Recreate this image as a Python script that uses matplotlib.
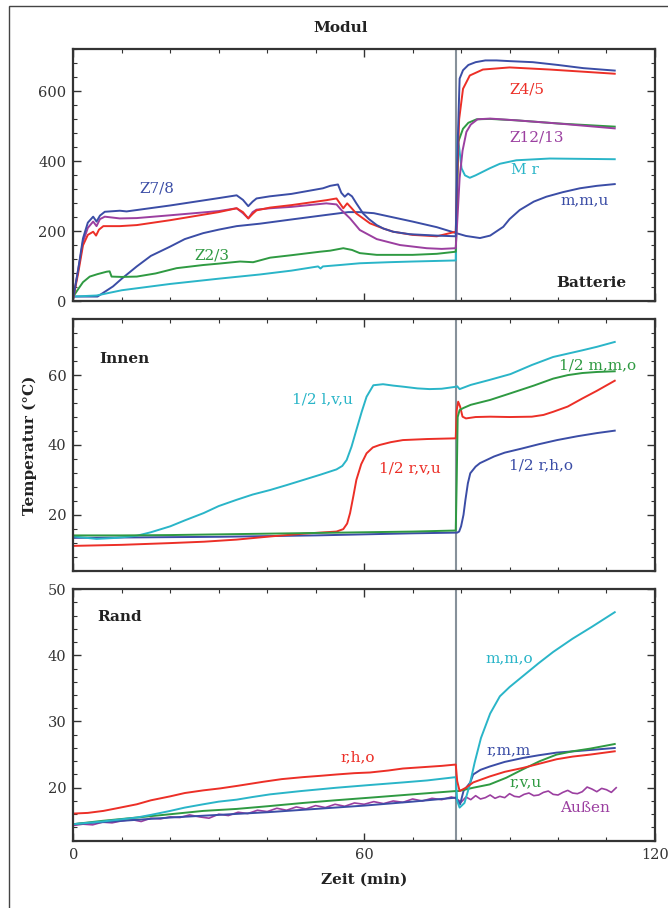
import numpy as np
import matplotlib.pyplot as plt
from matplotlib.ticker import MultipleLocator
from matplotlib.patches import Rectangle

plt.rcParams['font.family'] = ['DejaVu Serif']

# colours
BLUE = '#3b4da6'
RED = '#ec2f27'
GREEN = '#2f9a42'
CYAN = '#2ab5c8'
PURPLE = '#9b3fa0'
T_SWITCH = 79

# ---- Modul (Batterie) ----
z78_t = [0, 1, 2, 3, 4.1, 4.8, 5.5, 6.5, 9.6, 11, 20, 30, 33.7, 35, 36.1, 37, 37.8, 40.5, 45, 51.5, 53, 54.6,
         55.3, 56, 56.7, 57.5, 58.4, 59.8, 61, 62.6, 64, 66, 69.4, 74.9, 78.9, 79.3, 79.7, 80.4, 81.5, 83, 85,
         87.3, 90, 94.8, 100, 105.2, 111.7]
z78_v = [10, 90, 180, 225, 242, 228, 245, 256, 259, 257, 274, 295, 303, 290, 272, 285, 294, 300, 307, 323, 330, 334,
         310, 299, 308, 300, 280, 251, 235, 218, 208, 199, 192, 188, 186, 450, 636, 660, 675, 683, 688,
         688, 686, 683, 675, 666, 659]
z45_t = [0, 1, 2, 3, 4.1, 4.7, 5.3, 6.2, 9.6, 13.1, 20, 30, 33.7, 35, 36.1, 37, 37.8, 40.6, 45, 52.2, 54.3, 55.7,
         56.5, 57.3, 58.4, 61.2, 64, 66, 70, 75, 78.9, 79.2, 79.6, 80.4, 81.8, 84.5, 90, 98.3, 105, 111.7]
z45_v = [10, 80, 160, 190, 199, 188, 205, 215, 215, 218, 232, 255, 266, 255, 237, 250, 260, 268, 275, 289, 294, 266,
         280, 268, 251, 223, 208, 199, 190, 186, 199, 350, 520, 607, 645, 662, 668, 662, 656, 650]
z1213_t = [0, 1, 2, 3, 4.1, 4.8, 5.5, 6.5, 9.6, 13.1, 20, 30, 33.7, 35, 36.1, 37, 37.8, 40.6, 45, 52.2, 54.3, 55.3,
           57.1, 59.1, 62.6, 67.4, 72.9, 76, 78.9, 79.3, 79.7, 80.3, 81.1, 82, 83.4, 86, 91.4, 100, 105, 111.7]
z1213_v = [10, 90, 170, 210, 228, 215, 235, 242, 237, 238, 246, 258, 266, 252, 237, 255, 262, 266, 270, 280, 277, 261,
           237, 204, 178, 161, 152, 150, 152, 250, 352, 430, 484, 505, 520, 522, 517, 508, 502, 494]
z23_t = [0, 1, 2, 3.4, 5, 6.9, 7.5, 7.9, 10, 13.1, 17, 21.3, 26.8, 30, 34.4, 37.1, 40.6, 45, 50.9, 53, 55.7, 57.5,
         59.1, 62.6, 70, 75, 78.9, 79.2, 79.4, 80.4, 81.5, 83.2, 86, 91.4, 100, 111.7]
z23_v = [14, 35, 55, 71, 78, 85, 86, 71, 70, 71, 80, 95, 104, 108, 114, 112, 125, 132, 142, 145, 152, 147,
         138, 133, 133, 136, 142, 300, 455, 493, 510, 520, 521, 517, 508, 499]
mr_t = [0, 4.8, 10, 20, 30, 38.5, 45, 50.5, 51, 51.5, 55, 59.1, 65, 70, 78.9, 79.1, 79.3, 79.6, 80.1, 80.8, 81.8,
        83, 85.9, 88, 91.4, 98.3, 105, 111.7]
mr_v = [14, 17, 32, 50, 65, 77, 88, 100, 94, 100, 104, 109, 112, 114, 117, 300, 474, 440, 380, 360, 353,
        360, 380, 393, 403, 408, 407, 406]
mmu_t = [0, 5, 8.2, 10, 13.1, 16, 19.9, 23, 26.8, 30, 33.7, 38.5, 45, 52.2, 56.7, 59, 62, 66, 70, 75, 79, 81,
         83.9, 86, 88.7, 90, 92.1, 95, 97.6, 101, 104.5, 108, 111.7]
mmu_v = [14, 14, 43, 65, 100, 130, 156, 178, 195, 205, 215, 222, 234, 247, 255, 255, 252, 240, 228, 212, 195, 187,
         181, 188, 213, 235, 261, 285, 299, 312, 323, 330, 335]

# ---- Innen ----
lvu_t = [0, 4.8, 9, 13.1, 16, 20, 23, 26.9, 30, 33.7, 37, 40.6, 44, 47.5, 51, 54.3, 55.5, 56.4, 57.4, 58.4, 59.5,
         60.5, 61.9, 63.9, 66, 68, 71, 73.5, 76, 78.6, 79.2, 79.7, 82, 85.8, 90.2, 94.6, 99, 105, 108, 111.7]
lvu_v = [13.8, 13.1, 13.4, 14, 15, 16.7, 18.4, 20.5, 22.5, 24.3, 25.8, 27.1, 28.5, 30, 31.5, 33, 34, 35.7, 39.5,
         44.3, 49.5, 53.8, 57.1, 57.4, 57, 56.7, 56.2, 56, 56.1, 56.6, 56.8, 56, 57.2, 58.6, 60.3, 62.9, 65.2,
         67.1, 68.1, 69.5]
rvu_t = [0, 10, 20, 27, 33.7, 40.6, 47.5, 54.3, 55.7, 56.5, 57.1, 57.8, 58.4, 59.4, 60.5, 61.8, 63.2, 65.5, 68, 73,
         78.9, 79.1, 79.4, 79.8, 80.3, 81, 83, 86, 90, 94.6, 97, 99, 102, 105, 108, 111.7]
rvu_v = [11.1, 11.4, 11.9, 12.3, 12.9, 13.8, 14.6, 15.2, 15.9, 17.5, 20.5, 25.5, 30, 34.5, 37.6, 39.3, 40, 40.8,
         41.4, 41.7, 41.9, 50, 52.4, 51, 48.1, 47.6, 48, 48.1, 48, 48.1, 48.6, 49.5, 51, 53.3, 55.5, 58.4]
mmo_t = [0, 10, 20, 30, 40, 50, 60, 70, 78.9, 79.1, 79.3, 79.7, 80.5, 82, 86, 90.2, 95, 99, 102, 105, 108, 111.7]
mmo_v = [14.1, 14.1, 14.2, 14.4, 14.6, 14.8, 15.0, 15.2, 15.5, 30, 48, 50, 50.6, 51.5, 52.9, 54.8, 57, 59, 60,
         60.6, 60.9, 61.1]
rho_t = [0, 10, 20, 30, 40, 50, 60, 70, 79.2, 79.6, 80, 80.5, 80.9, 81.4, 81.9, 83, 83.9, 86.8, 89, 92.6, 96,
         99.8, 104, 108, 111.7]
rho_v = [13.4, 13.5, 13.6, 13.7, 13.9, 14.1, 14.4, 14.7, 14.9, 15.2, 16.7, 20, 24.3, 29, 31.9, 33.8, 34.8, 36.7,
         37.8, 39, 40.2, 41.4, 42.5, 43.4, 44.1]

# ---- Rand ----
rand_rho_t = [0, 3, 6.2, 9, 13.1, 16, 20, 23, 26.8, 30.3, 34, 39.2, 43, 47.4, 51, 54.3, 58, 61.2, 65, 68, 72, 76,
              78.9, 79.2, 79.7, 81, 82.5, 85.9, 89, 92.8, 96, 99.7, 103, 106.6, 111.7]
rand_rho_v = [16.1, 16.2, 16.5, 16.9, 17.5, 18.1, 18.7, 19.2, 19.6, 19.9, 20.3, 20.9, 21.3, 21.6, 21.8, 22, 22.2,
              22.3, 22.6, 22.9, 23.1, 23.3, 23.5, 21, 19.5, 20, 20.8, 21.7, 22.4, 23, 23.6, 24.3, 24.7, 25, 25.5]
rand_mmo_t = [0, 6, 13.1, 16, 20, 23, 26.8, 30, 33.7, 37, 40.6, 47, 54.3, 61, 68, 73, 78.9, 79.2, 79.7, 80.7, 81.7,
              82.8, 84.1, 86, 88, 90, 93, 96, 99, 103, 107, 111.7]
rand_mmo_v = [14.5, 14.9, 15.5, 15.9, 16.5, 17, 17.5, 17.9, 18.2, 18.6, 19, 19.5, 20, 20.4, 20.8, 21.1, 21.6, 18,
              17, 17.7, 20.2, 23.8, 27.5, 31.2, 33.8, 35.2, 37, 38.8, 40.5, 42.5, 44.3, 46.5]
rand_rvu_t = [0, 6, 13.1, 20, 26.8, 33.7, 40, 47.4, 54, 61.2, 70, 78.9, 79.5, 82.5, 85.9, 89.3, 92.8, 96.2, 99.7,
              103, 106.6, 111.7]
rand_rvu_v = [14.5, 15, 15.5, 16, 16.5, 16.8, 17.2, 17.7, 18.1, 18.5, 19, 19.5, 19.5, 20, 20.5, 21.5, 22.8, 24, 25,
              25.5, 25.9, 26.6]
rand_rmm_t = [0, 10, 20, 30, 40, 50, 60, 70, 78.9, 79.3, 79.8, 80.5, 81.9, 82.5, 84, 85.9, 89, 92.8, 96, 99.7, 105,
              111.7]
rand_rmm_v = [14.5, 15, 15.5, 15.9, 16.3, 16.8, 17.3, 17.9, 18.5, 18, 17.5, 19.5, 20.8, 22, 22.7, 23.2, 23.9, 24.5,
              24.9, 25.3, 25.6, 26]
aussen_t = [0, 2, 4, 6, 8, 10, 12, 14, 16, 18, 20, 22, 24, 26, 28, 30, 32, 34, 36, 38, 40, 42, 44, 46, 48, 50, 52,
            54, 56, 58, 60, 62, 64, 66, 68, 70, 72, 74, 76, 78, 79, 80, 81, 82, 83, 84, 85, 86, 87, 88, 89, 90,
            91, 92, 93, 94, 95, 96, 97, 98, 99, 100, 101, 102, 103, 104, 105, 106, 107, 108, 109, 110, 111, 112]
aussen_v = [14.3, 14.5, 14.4, 14.8, 14.7, 15.0, 15.2, 14.9, 15.4, 15.3, 15.6, 15.5, 15.9, 15.6, 15.4, 16.0, 15.8,
            16.3, 16.1, 16.6, 16.4, 16.9, 16.6, 17.1, 16.8, 17.3, 17.0, 17.5, 17.2, 17.7, 17.5, 17.9, 17.6, 18.0,
            17.8, 18.3, 18.0, 18.4, 18.2, 18.6, 18.4, 17.8, 18.6, 18.2, 18.8, 18.3, 18.5, 18.9, 18.4, 18.7, 18.5,
            19.1, 18.7, 18.6, 19.0, 19.2, 18.8, 18.9, 19.3, 19.5, 19.0, 18.9, 19.3, 19.6, 19.2, 19.1, 19.4, 20.1,
            19.8, 19.4, 19.9, 19.7, 19.3, 20.0]

fig = plt.figure(figsize=(6.68, 9.08), dpi=100)
L, W = 0.1097, 0.8708
ax1 = fig.add_axes([L, 0.6680, W, 0.2778])
ax2 = fig.add_axes([L, 0.3715, W, 0.2769])
ax3 = fig.add_axes([L, 0.0741, W, 0.2772])

lw = 1.4
ax1.plot(mmu_t, mmu_v, color=BLUE, lw=lw)
ax1.plot(mr_t, mr_v, color=CYAN, lw=lw)
ax1.plot(z23_t, z23_v, color=GREEN, lw=lw)
ax1.plot(z1213_t, z1213_v, color=PURPLE, lw=lw)
ax1.plot(z45_t, z45_v, color=RED, lw=lw)
ax1.plot(z78_t, z78_v, color=BLUE, lw=lw)

ax2.plot(rho_t, rho_v, color=BLUE, lw=lw)
ax2.plot(lvu_t, lvu_v, color=CYAN, lw=lw)
ax2.plot(rvu_t, rvu_v, color=RED, lw=lw)
ax2.plot(mmo_t, mmo_v, color=GREEN, lw=lw)

ax3.plot(aussen_t, aussen_v, color=PURPLE, lw=1.2)
ax3.plot(rand_rmm_t, rand_rmm_v, color=BLUE, lw=lw)
ax3.plot(rand_rvu_t, rand_rvu_v, color=GREEN, lw=lw)
ax3.plot(rand_mmo_t, rand_mmo_v, color=CYAN, lw=lw)
ax3.plot(rand_rho_t, rand_rho_v, color=RED, lw=lw)

limits = [(0, 720, 200, 40), (4, 76, 20, 4), (12, 50, 10, 2)]
for ax, (y0, y1, maj, mnr) in zip([ax1, ax2, ax3], limits):
    ax.axvline(T_SWITCH, color='#87919a', lw=1.5, zorder=0)
    ax.set_xlim(0, 120)
    ax.set_ylim(y0, y1)
    ax.xaxis.set_major_locator(MultipleLocator(60))
    ax.xaxis.set_minor_locator(MultipleLocator(10))
    ax.yaxis.set_major_locator(MultipleLocator(maj))
    ax.yaxis.set_minor_locator(MultipleLocator(mnr))
    ax.tick_params(which='both', direction='in', top=True, right=True, colors='#333333',
                   labelsize=10.5, pad=5)
    ax.tick_params(which='major', length=6, width=1)
    ax.tick_params(which='minor', length=3, width=0.8)
    for s in ax.spines.values():
        s.set_linewidth(1.6)
        s.set_color('#333333')
ax1.tick_params(labelbottom=False)
ax2.tick_params(labelbottom=False)
ax1.set_yticks([0, 200, 400, 600])
ax2.set_yticks([20, 40, 60])
ax3.set_yticks([20, 30, 40, 50])

fs = 11
def lab(ax, x, y, s, c, ha='center', weight='normal'):
    ax.text(x, y, s, color=c, fontsize=fs, ha=ha, va='center', fontweight=weight)

lab(ax1, 17.2, 322, 'Z7/8', BLUE)
lab(ax1, 93.5, 604, 'Z4/5', RED)
lab(ax1, 95.6, 468, 'Z12/13', PURPLE)
lab(ax1, 93.1, 375, 'M r', CYAN)
lab(ax1, 105.5, 290, 'm,m,u', BLUE)
lab(ax1, 28.6, 130, 'Z2/3', GREEN)
lab(ax1, 106.8, 52, 'Batterie', '#222222', weight='bold')

lab(ax2, 5.3, 64.6, 'Innen', '#222222', ha='left', weight='bold')
lab(ax2, 51.5, 53, '1/2 l,v,u', CYAN)
lab(ax2, 69.4, 33.3, '1/2 r,v,u', RED)
lab(ax2, 108.2, 62.9, '1/2 m,m,o', GREEN)
lab(ax2, 96.4, 34.1, '1/2 r,h,o', BLUE)

lab(ax3, 5.0, 45.8, 'Rand', '#222222', ha='left', weight='bold')
lab(ax3, 58.7, 24.6, 'r,h,o', RED)
lab(ax3, 90, 39.6, 'm,m,o', CYAN)
lab(ax3, 89.8, 25.7, 'r,m,m', BLUE)
lab(ax3, 93.3, 20.8, 'r,v,u', GREEN)
lab(ax3, 105.5, 16.9, 'Außen', PURPLE)

fig.text(341 / 668, 1 - 28 / 908, 'Modul', fontsize=11, ha='center', va='center', color='#222222',
         fontweight='bold')
fig.text(30 / 668, 1 - 445 / 908, 'Temperatur (°C)', fontsize=11, rotation=90, ha='center', va='center',
         color='#222222', fontweight='bold')
fig.text(364 / 668, 1 - 880 / 908, 'Zeit (min)', fontsize=11, ha='center', va='center', color='#222222',
         fontweight='bold')

fig.patches.append(Rectangle((8.5 / 668, -0.1), 1.2, 1.1 - 6 / 908, transform=fig.transFigure,
                             fill=False, edgecolor='#444444', lw=1.0))

fig.savefig('out.png', dpi=100)
